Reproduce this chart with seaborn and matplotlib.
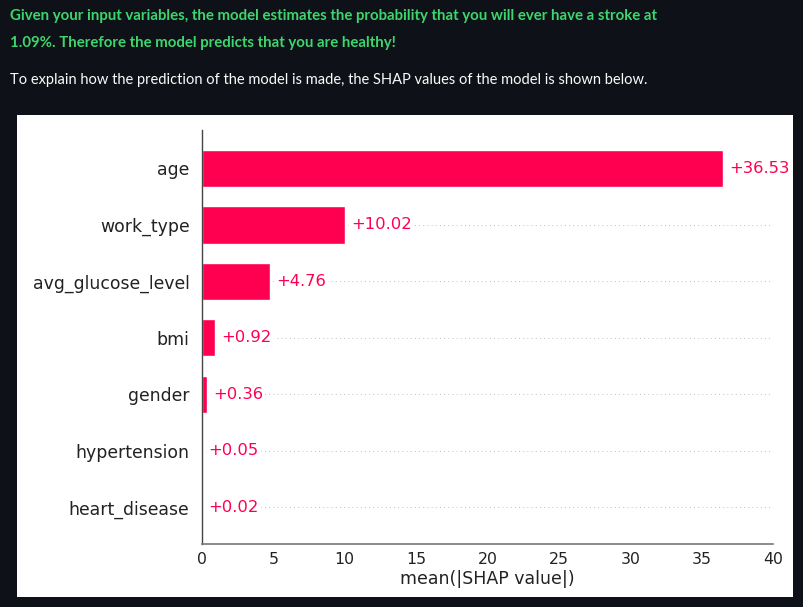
import matplotlib
matplotlib.use("Agg")
import matplotlib.pyplot as plt
import seaborn as sns
import pandas as pd
from matplotlib.patches import Rectangle

# data
features = ["age", "work_type", "avg_glucose_level", "bmi", "gender", "hypertension", "heart_disease"]
shap_means = [36.53, 10.02, 4.76, 0.92, 0.36, 0.05, 0.02]
x_ticks = [0, 5, 10, 15, 20, 25, 30, 35, 40]

header_green = ["Given your input variables, the model estimates the probability that you will ever have a stroke at",
                "1.09%. Therefore the model predicts that you are healthy!"]
header_white = "To explain how the prediction of the model is made, the SHAP values of the model is shown below."

df = pd.DataFrame({"feature": features, "value": shap_means})

shap_red = "#ff0051"
bg = "#0e1117"

sns.set_style("white")
plt.rcParams["font.family"] = ["DejaVu Sans"]
fig = plt.figure(figsize=(8.04, 6.07), dpi=100)
fig.patch.set_facecolor(bg)

# white panel behind the plot
fig.patches.append(Rectangle((17 / 804, 1 - 597 / 607), (793 - 17) / 804, (597 - 115) / 607,
                             transform=fig.transFigure, facecolor="white", edgecolor="none", zorder=-1))

fig.text(10 / 804, 1 - 16 / 607, header_green[0], color="#3dd56d", fontsize=10.8, fontweight="bold",
         family="Lato", va="center", ha="left")
fig.text(10 / 804, 1 - 43 / 607, header_green[1], color="#3dd56d", fontsize=10.8, fontweight="bold",
         family="Lato", va="center", ha="left")
fig.text(10 / 804, 1 - 80 / 607, header_white, color="#fafafa", fontsize=10.5,
         family="Lato", va="center", ha="left")

ax = fig.add_axes([202 / 804, 1 - 544 / 607, 571 / 804, (544 - 130) / 607])
ax.set_zorder(1)
ax.patch.set_alpha(0)

sns.barplot(data=df, x="value", y="feature", orient="h", color=shap_red, width=0.66,
            saturation=1, ax=ax, zorder=2)

for i, v in enumerate(shap_means):
    ax.axhline(i, color="#aaaaaa", lw=0.6, dashes=(1, 4), zorder=0)
    ax.text(v + 0.42, i, f"+{v:.2f}", color=shap_red, fontsize=11.8, va="center", ha="left",
            zorder=3, bbox=dict(facecolor="white", edgecolor="none", pad=1.5))

ax.set_xlim(0, 40)
ax.set_ylim(6.65, -0.68)
ax.set_xticks(x_ticks)
ax.set_xlabel("mean(|SHAP value|)", fontsize=12.5, color="#222222", labelpad=2)
ax.set_ylabel("")
ax.tick_params(axis="y", length=0, pad=9, labelsize=12.4, labelcolor="#222222")
ax.tick_params(axis="x", length=4, width=1, color="#666666", labelsize=11.3, labelcolor="#222222", pad=2)
for s in ["top", "right"]:
    ax.spines[s].set_visible(False)
ax.spines["left"].set_color("#444444")
ax.spines["bottom"].set_color("#777777")
ax.spines["left"].set_linewidth(1)
ax.spines["bottom"].set_linewidth(1.2)

fig.savefig("out.png", dpi=100, facecolor=bg)
